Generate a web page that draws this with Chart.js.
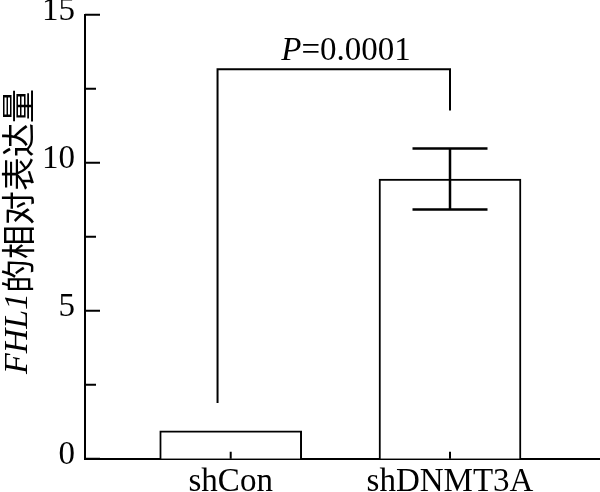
<!DOCTYPE html>
<html><head><meta charset="utf-8">
<script src="https://cdn.jsdelivr.net/npm/chart.js@4.4.1/dist/chart.umd.min.js"></script>
<style>html,body{margin:0;padding:0;background:#fff}#wrap{width:600px;height:492px}</style>
</head><body><div id="wrap"><canvas id="c" width="600" height="492"></canvas></div>
<script>
const categories = ['shCon', 'shDNMT3A'];
const categoryPositions = [1, 2];
const means = [0.94, 9.45];
const errors = [0, 1.03];
const yTicks = [0, 5, 10, 15];
const yMinorTicks = [2.5, 7.5, 12.5];
const yTitleItalic = 'FHL1';
const yTitleRest = '的相对表达量';
const pLabelItalic = 'P';
const pLabelRest = '=0.0001';
const bracketX = [0.94, 2];
const bracketY = [1.88, 13.16, 11.76];
const pLabelPos = [1.526, 13.47];

const SERIF = '"Liberation Serif", "Times New Roman", serif';
const CJK = '"Noto Sans CJK SC", sans-serif';

const decorPlugin = {
  id: 'decor',
  afterDatasetsDraw(chart) {
    const ctx = chart.ctx;
    const xs = chart.scales.x, ys = chart.scales.y;
    const left = chart.chartArea.left, bottom = chart.chartArea.bottom;
    ctx.save();
    ctx.strokeStyle = '#000';
    ctx.fillStyle = '#000';
    // error bars
    ctx.lineWidth = 2.5;
    categoryPositions.forEach((p, i) => {
      if (!errors[i]) return;
      const x = xs.getPixelForValue(p);
      const yt = ys.getPixelForValue(means[i] + errors[i]);
      const yb = ys.getPixelForValue(means[i] - errors[i]);
      ctx.beginPath();
      ctx.moveTo(x, yt); ctx.lineTo(x, yb);
      ctx.moveTo(x - 37.5, yt); ctx.lineTo(x + 37.5, yt);
      ctx.moveTo(x - 37.5, yb); ctx.lineTo(x + 37.5, yb);
      ctx.stroke();
    });
    // y ticks (inside)
    ctx.lineWidth = 2;
    ctx.beginPath();
    yTicks.forEach(v => { const y = ys.getPixelForValue(v); ctx.moveTo(left, y); ctx.lineTo(left + 15, y); });
    yMinorTicks.forEach(v => { const y = ys.getPixelForValue(v); ctx.moveTo(left, y); ctx.lineTo(left + 11, y); });
    // x ticks (inside)
    categoryPositions.forEach(p => { const x = xs.getPixelForValue(p); ctx.moveTo(x, bottom); ctx.lineTo(x, bottom - 7); });
    ctx.stroke();
    // bracket
    ctx.lineWidth = 2;
    const bx1 = xs.getPixelForValue(bracketX[0]), bx2 = xs.getPixelForValue(bracketX[1]);
    ctx.beginPath();
    ctx.moveTo(bx1, ys.getPixelForValue(bracketY[0]));
    ctx.lineTo(bx1, ys.getPixelForValue(bracketY[1]));
    ctx.lineTo(bx2, ys.getPixelForValue(bracketY[1]));
    ctx.lineTo(bx2, ys.getPixelForValue(bracketY[2]));
    ctx.stroke();
    // P label
    const fI = 'italic 33px ' + SERIF, fR = '33px ' + SERIF;
    ctx.font = fI; const w1 = ctx.measureText(pLabelItalic).width;
    ctx.font = fR; const w2 = ctx.measureText(pLabelRest).width;
    const cx = xs.getPixelForValue(pLabelPos[0]), by = ys.getPixelForValue(pLabelPos[1]);
    ctx.textBaseline = 'alphabetic'; ctx.textAlign = 'left';
    ctx.font = fI; ctx.fillText(pLabelItalic, cx - (w1 + w2) / 2, by);
    ctx.font = fR; ctx.fillText(pLabelRest, cx - (w1 + w2) / 2 + w1, by);
    // y title
    const tI = 'italic 34px ' + SERIF, tC = '34px ' + CJK;
    ctx.font = tI; const t1 = ctx.measureText(yTitleItalic).width;
    ctx.font = tC; const t2 = ctx.measureText(yTitleRest).width;
    ctx.translate(27, 231.5);
    ctx.rotate(-Math.PI / 2);
    const s = -(t1 + t2) / 2;
    ctx.font = tI; ctx.fillText(yTitleItalic, s, 0);
    ctx.font = tC; ctx.fillText(yTitleRest, s + t1, 4);
    ctx.restore();
  }
};

new Chart(document.getElementById('c'), {
  type: 'bar',
  data: {
    datasets: [{
      data: categoryPositions.map((x, i) => ({ x, y: means[i] })),
      backgroundColor: '#fff',
      borderColor: '#000',
      borderWidth: 2,
      borderSkipped: 'bottom',
      barThickness: 142
    }]
  },
  options: {
    responsive: false,
    animation: false,
    devicePixelRatio: 1,
    layout: { padding: { top: 14.7, left: 0, right: 0, bottom: 0 } },
    plugins: { legend: { display: false }, tooltip: { enabled: false } },
    scales: {
      x: {
        type: 'linear', min: 0.3356, max: 2.684, offset: false,
        afterBuildTicks: s => { s.ticks = categoryPositions.map(v => ({ value: v })); },
        ticks: {
          callback: v => { const i = categoryPositions.indexOf(v); return i >= 0 ? categories[i] : ''; },
          font: { family: SERIF, size: 33 }, color: '#000', padding: 4,
          autoSkip: false, maxRotation: 0, minRotation: 0
        },
        grid: { display: false, drawTicks: false },
        border: { display: true, color: '#000', width: 2 },
        afterFit: s => { s.height = 33.3; s.paddingLeft = 0; s.paddingRight = 0; }
      },
      y: {
        min: 0, max: 15,
        afterBuildTicks: s => { s.ticks = yTicks.map(v => ({ value: v })); },
        ticks: { font: { family: SERIF, size: 33 }, color: '#000', padding: 10, labelOffset: -3 },
        grid: { display: false, drawTicks: false },
        border: { display: true, color: '#000', width: 2 },
        afterFit: s => { s.width = 85; s.paddingTop = 0; s.paddingBottom = 0; }
      }
    }
  },
  plugins: [decorPlugin]
});
</script>
</body></html>
